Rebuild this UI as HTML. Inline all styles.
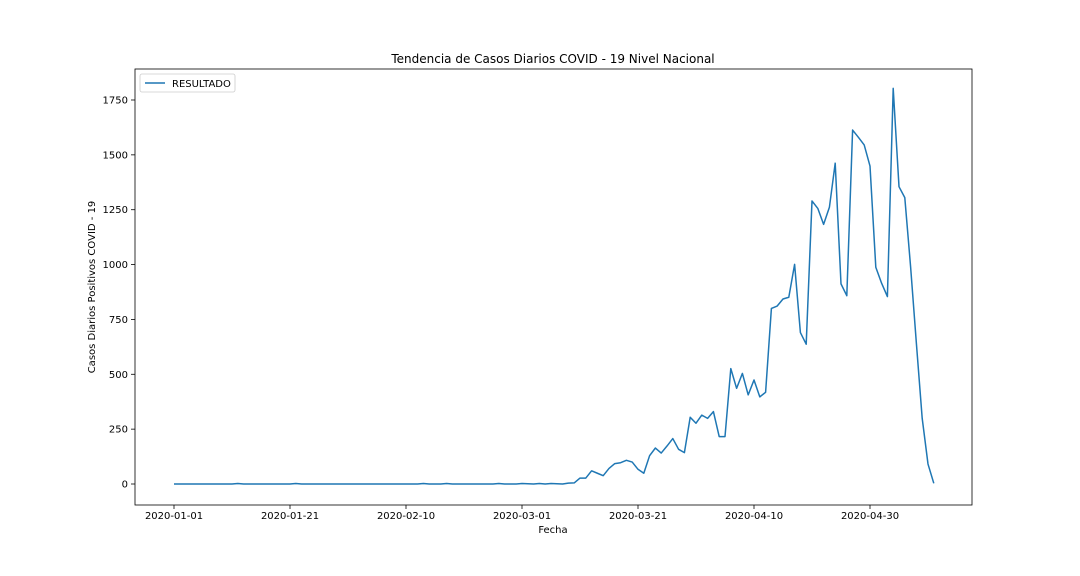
<!DOCTYPE html>
<html><head><meta charset="utf-8"><style>
body{margin:0;background:#fff;}
svg{display:block;font-family:"DejaVu Sans","Liberation Sans",sans-serif;}
</style></head><body>
<svg id="chart" width="1080" height="576">
<text x="553" y="63" text-anchor="middle" font-size="12">Tendencia de Casos Diarios COVID - 19 Nivel Nacional</text>
<text x="553" y="533" text-anchor="middle" font-size="10">Fecha</text>
<text x="95" y="287" text-anchor="middle" font-size="10" transform="rotate(-90 95 287)">Casos Diarios Positivos COVID - 19</text>
<g id="plot"></g>
<rect x="135" y="69" width="837" height="436" fill="none" stroke="#000" stroke-width="0.8"/>
<g>
<rect x="140" y="74" width="95" height="18" rx="2" fill="#fff" stroke="#ccc" stroke-width="0.8"/>
<line x1="145" y1="83" x2="165" y2="83" stroke="#1f77b4" stroke-width="1.5"/>
<text x="172" y="87" font-size="10">RESULTADO</text>
</g>
</svg>
<script>
const early = [0,0,0,0,0,0,0,0,0,0,0,2,0,0,0,0,0,0,0,0,0,2,0,0,0,0,0,0,0,0,0,0,0,0,0,0,0,0,0,0,0,0,0,2,0,0,0,2,0,0,0,0,0,0,0,0,2,0,0,0];
const march = [2,1,0,2,0,2,1,0,4,5,27,27,60,49,38,71,93,97,108,100,67,49,129,164,141,173,207,158,143,304,277,314,299,330,216,216,526,436,504,406,474,397,418];
const aprilMay = [800,811,843,851,1001,690,637,1290,1256,1183,1261,1462,912,858,1613,1580,1545,1449,988,915,854,1803,1355,1305,990,640,299,91,3];
const series = early.concat(march, aprilMay);
const yTicks = [0,250,500,750,1000,1250,1500,1750];
const xTickLabels = ["2020-01-01","2020-01-21","2020-02-10","2020-03-01","2020-03-21","2020-04-10","2020-04-30"];
const xTickDays = [0,20,40,60,80,100,120];

function xPos(d){return 174 + d*5.8;}
function yPos(v){return 484 - v*0.21943;}
const ns="http://www.w3.org/2000/svg";
const g=document.getElementById('plot');
function mk(t,a){const e=document.createElementNS(ns,t);for(const k in a)e.setAttribute(k,a[k]);g.appendChild(e);return e;}
yTicks.forEach(v=>{
  const l=mk('line',{x1:131,x2:135,y1:yPos(v),y2:yPos(v),stroke:'#000','stroke-width':0.8});
  
  
  const t=mk('text',{x:128,y:yPos(v)+3.5,'text-anchor':'end','font-size':10});
  t.textContent=v;
  
  
});
xTickDays.forEach((d,i)=>{
  const l=mk('line',{x1:xPos(d),x2:xPos(d),y1:505,y2:509,stroke:'#000','stroke-width':0.8});
  
  
  const t=mk('text',{x:xPos(d),y:519,'text-anchor':'middle','font-size':10});
  t.textContent=xTickLabels[i];
  
  
});
const pts=series.map((v,i)=>xPos(i).toFixed(2)+','+yPos(v).toFixed(2)).join(' ');
const line=mk('polyline',{points:pts,fill:'none',stroke:'#1f77b4','stroke-width':1.5,'stroke-linejoin':'round'});


</script>
</body></html>
